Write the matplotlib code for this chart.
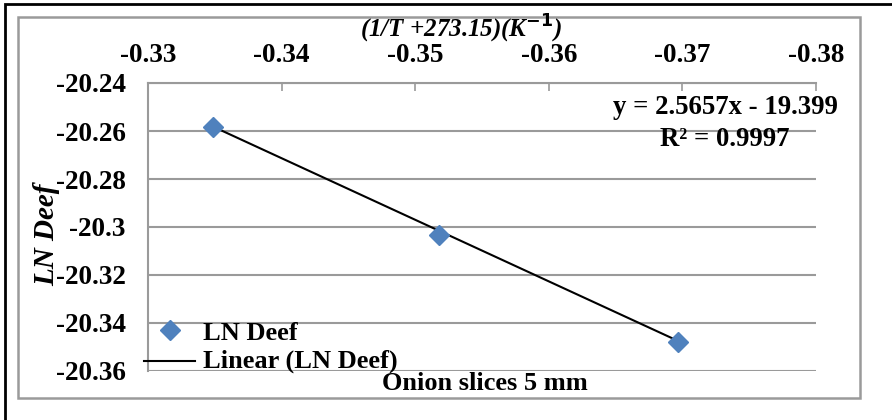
""" LN Deef vs (1/T + 273.15), onion slices 5 mm """
import matplotlib
matplotlib.use('Agg')
import matplotlib.pyplot as plt
import numpy as np
from matplotlib.patches import Rectangle
from matplotlib.lines import Line2D

# data
inv_temp = [-0.3349, -0.3518, -0.3697]
ln_deef = [-20.2583, -20.3033, -20.3479]
slope = 2.5657
intercept = -19.399
r2 = 0.9997
x_ticks = [-0.33, -0.34, -0.35, -0.36, -0.37, -0.38]
y_ticks = [-20.24, -20.26, -20.28, -20.30, -20.32, -20.34, -20.36]

plt.rcParams['font.family'] = ['Liberation Serif', 'DejaVu Serif']
plt.rcParams['font.weight'] = 'bold'

W, H = 892, 420
fig = plt.figure(figsize=(W / 100, H / 100), dpi=100)

# outer black frame and inner grey chart frame
fig.patches.append(Rectangle((5 / W, -0.05), 1.1, 1 - 4 / H + 0.05, transform=fig.transFigure,
                             fill=False, edgecolor='black', linewidth=2))
fig.patches.append(Rectangle((18 / W, 1 - 398 / H), (860 - 18) / W, (398 - 17) / H,
                             transform=fig.transFigure, fill=False, edgecolor='#9a9a9a', linewidth=1.8))

ax = fig.add_axes([148 / W, 1 - 371 / H, (816 - 148) / W, (371 - 83) / H])
ax.set_facecolor('none')

# trend line over the data range
xl = np.array([inv_temp[0], inv_temp[-1]])
ax.plot(xl, slope * xl + intercept, color='black', linewidth=1.5, zorder=3)
ax.plot(inv_temp, ln_deef, linestyle='none', marker='D', markersize=10,
        color='#4f81bd', zorder=4)

ax.set_xlim(-0.33, -0.38)
ax.set_ylim(-20.36, -20.24)
ax.xaxis.tick_top()
ax.set_xticks(x_ticks)
ax.set_xticklabels(['{:g}'.format(v) for v in x_ticks])
ax.set_yticks(y_ticks)
ax.set_yticklabels(['{:g}'.format(v) for v in y_ticks])
ax.tick_params(axis='x', direction='in', length=6, width=1.2, color='#9a9a9a',
               pad=11, labelsize=19.5)
ax.tick_params(axis='y', length=0, pad=16, labelsize=19.5)
ax.grid(axis='y', color='#9a9a9a', linewidth=1.5)
ax.set_axisbelow(True)
for side in ['right', 'bottom']:
    ax.spines[side].set_visible(False)
for side in ['left', 'top']:
    ax.spines[side].set_color('#9a9a9a')
    ax.spines[side].set_linewidth(1.5)

# equation
fig.text(838 / W, 1 - 107 / H, 'y = 2.5657x - 19.399', ha='right', va='center', fontsize=19.3)
fig.text(790 / W, 1 - 140 / H, 'R² = {}'.format(r2), ha='right', va='center', fontsize=19.3)

# axis titles
fig.text(461 / W, 1 - 29 / H, r'(1/T +273.15)(K$^{\mathbf{-1}}$)', ha='center', va='center',
         fontsize=18, style='italic')
fig.text(47 / W, 1 - 235 / H, 'LN Deef', rotation=90, ha='center', va='center',
         fontsize=21, style='italic')
fig.text(485 / W, 1 - 384 / H, 'Onion slices 5 mm', ha='center', va='center', fontsize=19)

# legend
fig.lines.append(Line2D([170 / W], [1 - 330 / H], marker='D', markersize=10, color='#4f81bd',
                        linestyle='none', transform=fig.transFigure))
fig.text(203 / W, 1 - 333 / H, 'LN Deef', ha='left', va='center', fontsize=19)
fig.lines.append(Line2D([144 / W, 195 / W], [1 - 361 / H] * 2, color='black', linewidth=1.5,
                        transform=fig.transFigure))
fig.text(203 / W, 1 - 361 / H, 'Linear (LN Deef)', ha='left', va='center', fontsize=19)

plt.savefig('out.png', dpi=100)
